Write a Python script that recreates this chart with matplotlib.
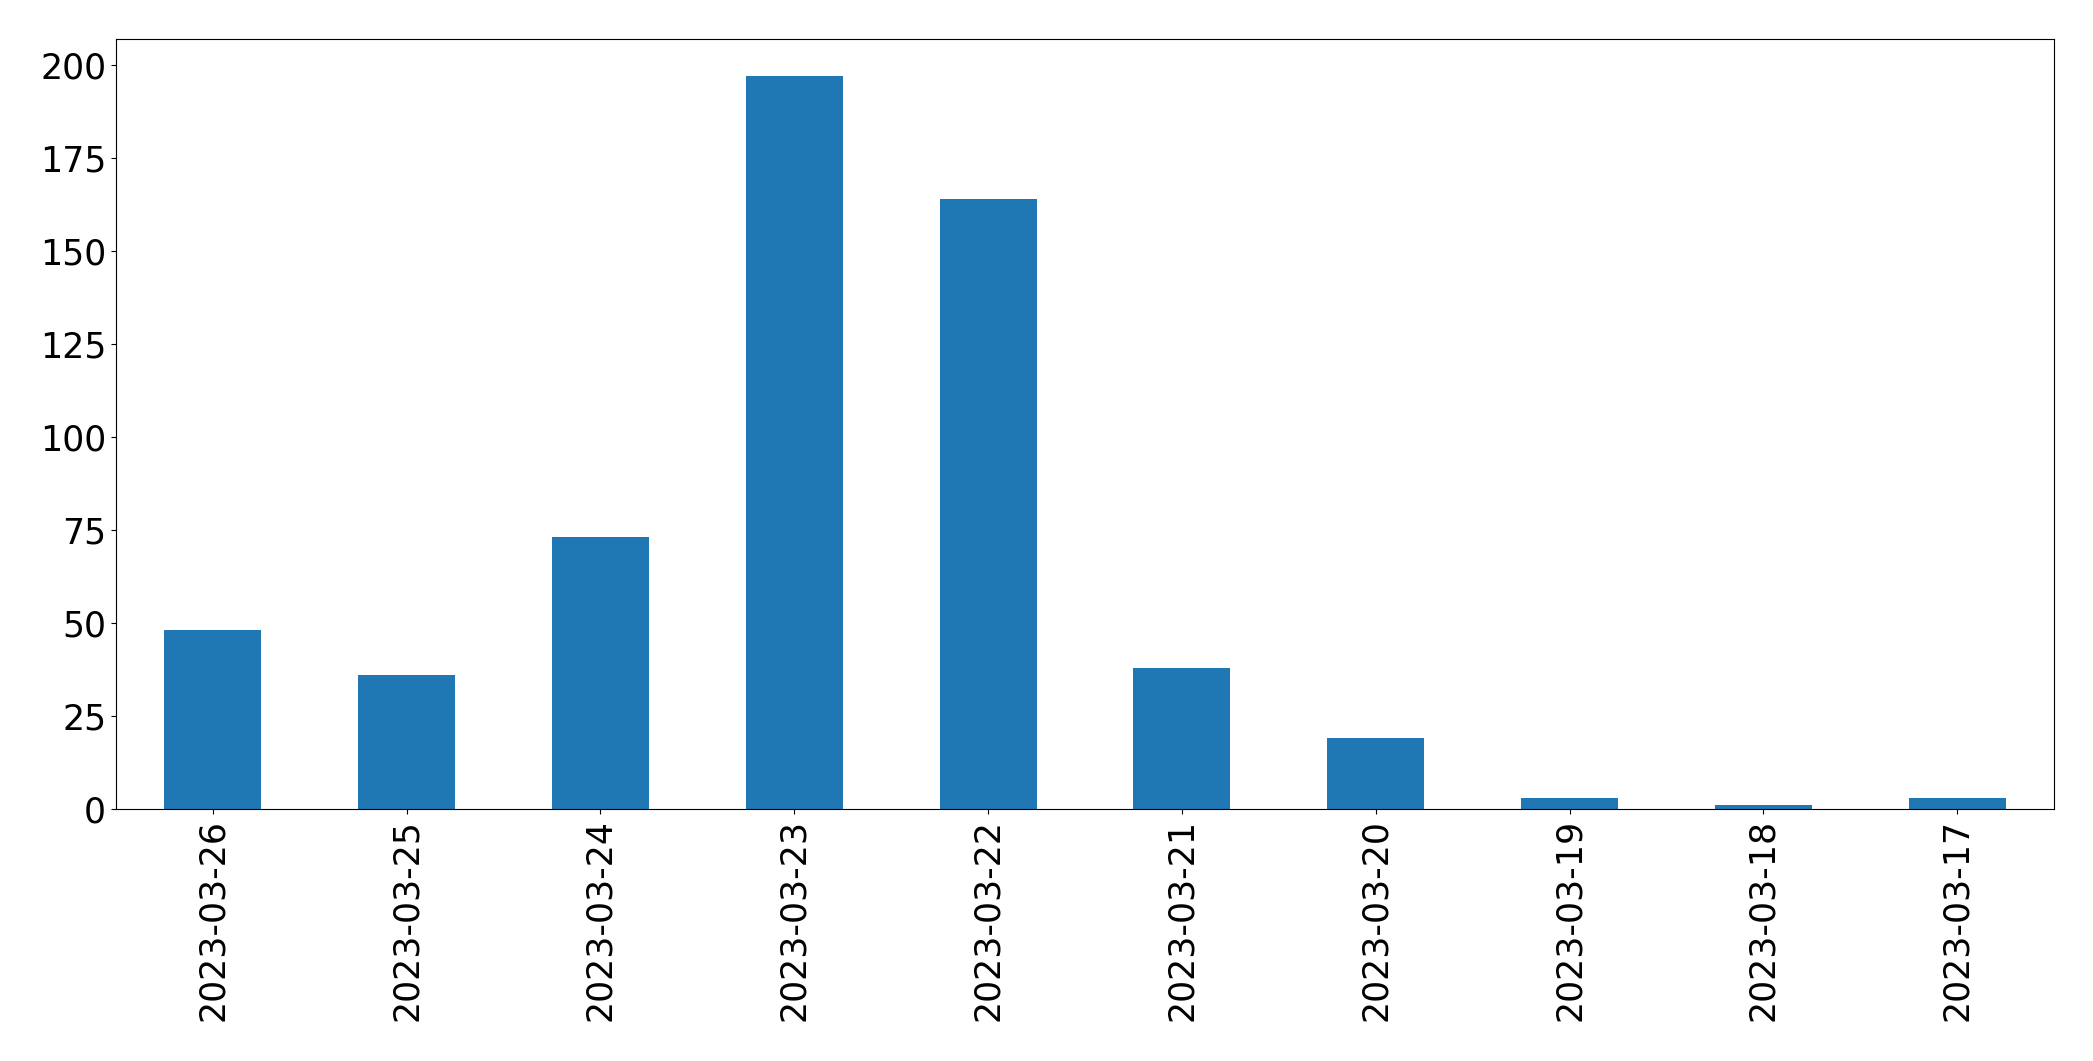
import matplotlib
matplotlib.use("Agg")
import matplotlib.pyplot as plt
import numpy as np

# Counts per day, newest first
dates = ['2023-03-26', '2023-03-25', '2023-03-24', '2023-03-23', '2023-03-22',
         '2023-03-21', '2023-03-20', '2023-03-19', '2023-03-18', '2023-03-17']
counts = [48, 36, 73, 197, 164, 38, 19, 3, 1, 3]

fig = plt.figure(figsize=(20.93, 10.61), dpi=100)
ax = fig.add_axes([0.0554, 0.2375, 0.926, 0.7257])

x = np.arange(len(dates))
ax.bar(x, counts, width=0.5, color='#1f77b4')
ax.set_xlim(-0.5, len(dates) - 0.5)

ax.set_xticks(x)
ax.set_xticklabels(dates, rotation=90)
ax.tick_params(axis='both', labelsize=25)

fig.savefig('out.png', dpi=100)
